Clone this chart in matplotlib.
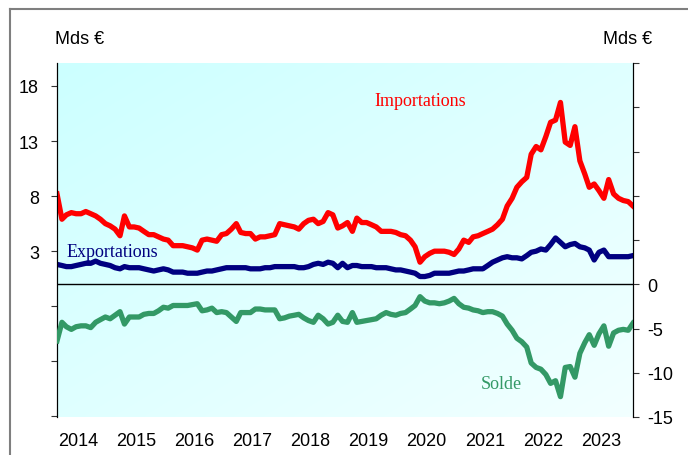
import matplotlib
matplotlib.use('Agg')
import matplotlib.pyplot as plt
import matplotlib.lines as mlines
import numpy as np
import pandas as pd

plt.rcParams['font.family'] = ['Liberation Sans', 'DejaVu Sans']

# monthly data, Jan 2014 - Dec 2023, Mds €
months = pd.date_range('2014-01-01', periods=120, freq='MS')

importations = [
    8.2, 5.9, 6.3, 6.5, 6.4, 6.4, 6.6, 6.4, 6.2, 5.9, 5.5, 5.3,
    5.0, 4.4, 6.2, 5.2, 5.2, 5.1, 4.8, 4.5, 4.5, 4.3, 4.1, 4.0,
    3.5, 3.5, 3.5, 3.4, 3.3, 3.1, 4.0, 4.1, 4.0, 3.9, 4.5, 4.6,
    5.0, 5.5, 4.7, 4.6, 4.6, 4.1, 4.3, 4.3, 4.4, 4.5, 5.5, 5.4,
    5.3, 5.2, 5.0, 5.5, 5.8, 5.9, 5.5, 5.7, 6.5, 6.3, 5.1, 5.3,
    5.6, 4.8, 6.0, 5.6, 5.6, 5.4, 5.2, 4.8, 4.8, 4.8, 4.7, 4.5,
    4.4, 4.0, 3.4, 2.0, 2.5, 2.8, 3.0, 3.0, 3.0, 2.9, 2.7, 3.2,
    4.0, 3.8, 4.3, 4.4, 4.6, 4.8, 5.0, 5.4, 5.9, 7.1, 7.8, 8.8,
    9.3, 9.7, 11.8, 12.5, 12.2, 13.4, 14.7, 14.9, 16.5, 12.9, 12.6, 14.3,
    11.2, 10.0, 8.8, 9.1, 8.5, 7.8, 9.5, 8.2, 7.8, 7.6, 7.5, 7.1,
]

exportations = [
    1.8, 1.7, 1.6, 1.6, 1.7, 1.8, 1.9, 1.9, 2.1, 1.9, 1.8, 1.7,
    1.5, 1.4, 1.6, 1.5, 1.5, 1.5, 1.4, 1.3, 1.2, 1.3, 1.4, 1.3,
    1.1, 1.1, 1.1, 1.0, 1.0, 1.0, 1.1, 1.2, 1.2, 1.3, 1.4, 1.5,
    1.5, 1.5, 1.5, 1.5, 1.4, 1.4, 1.4, 1.5, 1.5, 1.6, 1.6, 1.6,
    1.6, 1.6, 1.5, 1.5, 1.6, 1.8, 1.9, 1.8, 2.0, 1.9, 1.5, 1.9,
    1.5, 1.7, 1.7, 1.6, 1.6, 1.6, 1.5, 1.5, 1.5, 1.4, 1.3, 1.3,
    1.2, 1.1, 1.0, 0.7, 0.7, 0.8, 1.0, 1.0, 1.0, 1.0, 1.1, 1.2,
    1.2, 1.3, 1.4, 1.4, 1.4, 1.7, 2.0, 2.2, 2.4, 2.5, 2.4, 2.4,
    2.3, 2.6, 2.9, 3.0, 3.2, 3.1, 3.6, 4.2, 3.8, 3.4, 3.6, 3.7,
    3.4, 3.3, 3.1, 2.2, 2.9, 3.1, 2.5, 2.5, 2.5, 2.5, 2.5, 2.6,
]

solde = [
    -6.4, -4.3, -4.8, -5.1, -4.8, -4.7, -4.7, -4.9, -4.3, -4.0, -3.7, -3.9,
    -3.5, -3.1, -4.5, -3.7, -3.7, -3.7, -3.4, -3.3, -3.3, -3.0, -2.6, -2.7,
    -2.4, -2.4, -2.4, -2.4, -2.3, -2.2, -3.0, -2.9, -2.7, -3.2, -3.1, -3.2,
    -3.7, -4.2, -3.2, -3.2, -3.2, -2.8, -2.8, -2.9, -2.9, -2.9, -3.9, -3.8,
    -3.6, -3.5, -3.4, -3.8, -4.1, -4.3, -3.5, -3.9, -4.5, -4.3, -3.5, -4.2,
    -4.3, -3.2, -4.3, -4.2, -4.1, -4.0, -3.9, -3.5, -3.2, -3.4, -3.5, -3.3,
    -3.2, -2.8, -2.4, -1.4, -1.9, -2.1, -2.1, -2.2, -2.1, -1.9, -1.6, -2.2,
    -2.6, -2.7, -2.9, -3.0, -3.2, -3.1, -3.1, -3.3, -3.6, -4.5, -5.2, -6.1,
    -6.5, -7.1, -8.9, -9.4, -9.6, -10.2, -11.2, -10.9, -12.7, -9.4, -9.3, -10.5,
    -7.8, -6.6, -5.7, -6.9, -5.6, -4.7, -7.0, -5.5, -5.2, -5.1, -5.2, -4.4,
]

years = ['2014', '2015', '2016', '2017', '2018', '2019', '2020', '2021', '2022', '2023']
left_ticks = [-12, -7, -2, 3, 8, 13, 18]
left_labels = ['', '', '', '3', '8', '13', '18']
right_ticks = [-15, -10, -5, 0, 5, 10, 15, 20, 25]
right_labels = ['-15', '-10', '-5', '0', '', '', '', '', '']

red = '#ff0000'
navy = '#000080'
green = '#339966'

fig = plt.figure(figsize=(6.88, 4.56), dpi=100)
fig.patch.set_facecolor('white')
ax1 = fig.add_axes([57 / 688, 38 / 456, 576 / 688, 354 / 456])
ax2 = ax1.twinx()

# light cyan diagonal gradient background (top-left darker, bottom-right lighter)
gx, gy = np.meshgrid(np.linspace(0, 1, 200), np.linspace(0, 1, 200))
t = (gx + gy) / 2
grad = np.dstack([0.80 + 0.15 * t, np.ones_like(t), np.ones_like(t)])
ax1.imshow(grad, extent=[0, 1, 0, 1], transform=ax1.transAxes, origin='upper',
           interpolation='bilinear', aspect='auto', zorder=0)

ax1.plot(months, importations, color=red, lw=3.8, solid_joinstyle='round', zorder=3)
ax1.plot(months, exportations, color=navy, lw=3.8, solid_joinstyle='round', zorder=3)
ax2.plot(months, solde, color=green, lw=3.8, solid_joinstyle='round', zorder=3)
ax1.axhline(0, color='black', lw=1, zorder=2)

ax1.set_xlim(months[0], months[-1])
ax1.set_ylim(-12.05, 20.08)
ax2.set_ylim(-15, 25)

ax1.set_yticks(left_ticks)
ax1.set_yticklabels(left_labels)
ax2.set_yticks(right_ticks)
ax2.set_yticklabels(right_labels)

year_pos = [pd.Timestamp(y + '-05-13') for y in years]
ax1.set_xticks(year_pos)
ax1.set_xticklabels(years)

ax1.tick_params(axis='x', length=0, pad=11, labelsize=13)
ax1.tick_params(axis='y', direction='out', length=4, pad=9, labelsize=13, color='#333333')
ax2.tick_params(axis='y', direction='out', length=4, pad=6, labelsize=13, color='#333333')

for ax in (ax1, ax2):
    ax.spines['top'].set_visible(False)
    ax.spines['bottom'].set_visible(False)
    ax.spines['left'].set_color('black')
    ax.spines['right'].set_color('black')

ax1.text(pd.Timestamp('2020-04-01'), 16.7, 'Importations', color=red,
         family='Liberation Serif', fontsize=13, ha='center', va='center')
ax1.text(pd.Timestamp('2014-12-15'), 3.0, 'Exportations', color=navy,
         family='Liberation Serif', fontsize=13, ha='center', va='center')
ax2.text(pd.Timestamp('2021-08-28'), -11.2, 'Solde', color=green,
         family='Liberation Serif', fontsize=13, ha='center', va='center')

fig.text(80 / 688, 1 - 40 / 456, 'Mds €', fontsize=13, ha='center', va='center')
fig.text(628 / 688, 1 - 40 / 456, 'Mds €', fontsize=13, ha='center', va='center')

# frame of the original figure
fig.add_artist(mlines.Line2D([9.5 / 688, 9.5 / 688], [0, 1 - 9.5 / 456],
                             transform=fig.transFigure, color='#7f7f7f', lw=1.5))
fig.add_artist(mlines.Line2D([9.5 / 688, 1], [1 - 9.5 / 456, 1 - 9.5 / 456],
                             transform=fig.transFigure, color='#7f7f7f', lw=1.5))

fig.savefig('out.png', dpi=100)
